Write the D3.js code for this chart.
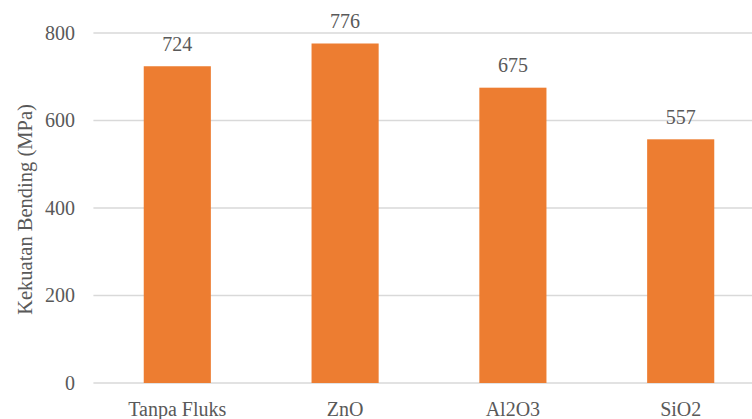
<!DOCTYPE html>
<html>
<head>
<meta charset="utf-8">
<script src="https://cdn.jsdelivr.net/npm/d3@7"></script>
<style>
  body { margin: 0; background: #fff; }
</style>
</head>
<body>
<svg id="chart" width="752" height="419"></svg>
<script>
const categories = ["Tanpa Fluks", "ZnO", "Al2O3", "SiO2"];
const values = [724, 776, 675, 557];
const yTicks = [0, 200, 400, 600, 800];

const FONT = "'Liberation Serif', 'Times New Roman', Times, serif";
const TEXT_COLOR = "#595959";

const svg = d3.select("#chart")
  .attr("font-family", FONT)
  .style("font-family", FONT);

const x = d3.scaleBand().domain(categories).range([93.4, 764.6]).paddingInner(0.6).paddingOuter(0.3);
const y = d3.scaleLinear().domain([0, 800]).range([383, 33]);

// gridlines
svg.append("g")
  .selectAll("line")
  .data(yTicks)
  .enter()
  .append("line")
  .attr("x1", 93.4)
  .attr("x2", 752)
  .attr("y1", (d) => y(d))
  .attr("y2", (d) => y(d))
  .attr("stroke", "#d9d9d9")
  .attr("stroke-width", 1.3);

// y tick labels
svg.append("g")
  .selectAll("text")
  .data(yTicks)
  .enter()
  .append("text")
  .attr("x", 75)
  .attr("y", (d) => y(d))
  .attr("dy", "0.33em")
  .attr("text-anchor", "end")
  .attr("fill", TEXT_COLOR)
  .style("font-family", FONT)
  .style("font-size", "20px")
  .text((d) => d);

// bars
svg.append("g")
  .selectAll("rect")
  .data(values)
  .enter()
  .append("rect")
  .attr("x", (d, i) => x(categories[i]))
  .attr("width", x.bandwidth())
  .attr("y", (d) => y(d))
  .attr("height", (d) => y(0) - y(d))
  .attr("fill", "#ed7d31");

// value labels
svg.append("g")
  .selectAll("text")
  .data(values)
  .enter()
  .append("text")
  .attr("x", (d, i) => x(categories[i]) + x.bandwidth() / 2)
  .attr("y", (d) => y(d) - 15.5)
  .attr("text-anchor", "middle")
  .attr("fill", TEXT_COLOR)
  .style("font-family", FONT)
  .style("font-size", "20px")
  .text((d) => d);

// category labels
svg.append("g")
  .selectAll("text")
  .data(categories)
  .enter()
  .append("text")
  .attr("x", (d) => x(d) + x.bandwidth() / 2)
  .attr("y", 416)
  .attr("text-anchor", "middle")
  .attr("fill", TEXT_COLOR)
  .style("font-family", FONT)
  .style("font-size", "20px")
  .text((d) => d);

// y axis title
svg.append("text")
  .attr("transform", `translate(32,${(y(0) + y(800)) / 2 + 1.5}) rotate(-90)`)
  .attr("text-anchor", "middle")
  .attr("fill", TEXT_COLOR)
  .style("font-family", FONT)
  .style("font-size", "20.5px")
  .text("Kekuatan Bending (MPa)");
</script>
</body>
</html>
